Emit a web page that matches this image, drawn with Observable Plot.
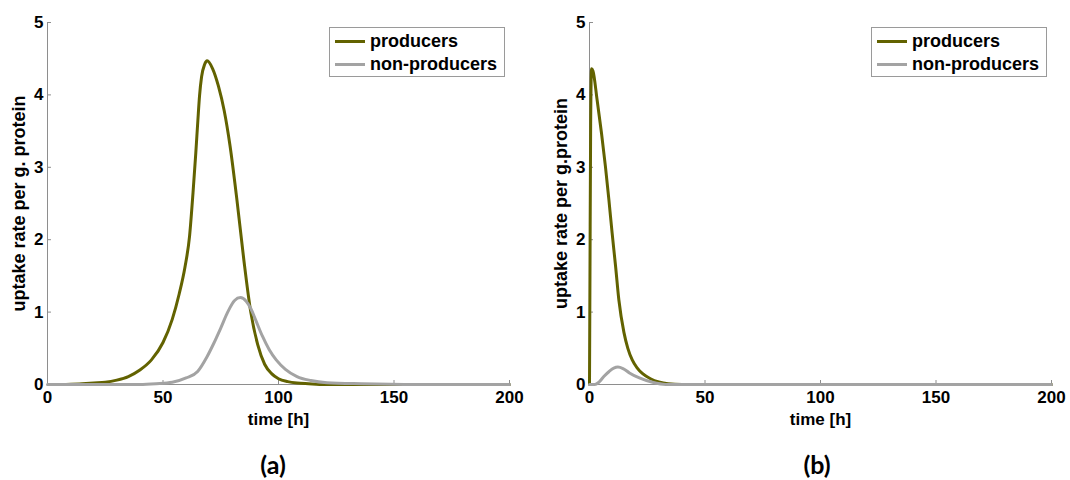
<!DOCTYPE html>
<html><head><meta charset="utf-8">
<script src="https://cdn.jsdelivr.net/npm/d3@7"></script>
<script src="https://cdn.jsdelivr.net/npm/@observablehq/plot@0.6"></script>
<style>
body{margin:0;background:#fff;}
#root{position:relative;width:1070px;height:480px;overflow:hidden;font-family:"Liberation Sans",Arial,sans-serif;background:#fff;}
.panel{position:absolute;top:0;}
.legend{position:absolute;top:27px;width:176px;height:50px;box-sizing:border-box;border:1px solid #9a9a9a;background:#fff;}
.legend .sw{position:absolute;left:5px;width:30px;height:3px;}
.legend .lb{position:absolute;left:40px;font-weight:bold;font-size:18px;line-height:20px;white-space:nowrap;color:#000;}
.caption{position:absolute;font-family:Lato,"Open Sans",sans-serif;font-weight:bold;font-size:25px;transform:translate(-50%,-50%);color:#000;}
</style></head>
<body>
<div id="root"></div>
<script>
// ---- data ----
const seriesNames = ["producers", "non-producers"];
const xTicks = [0, 50, 100, 150, 200];
const yTicks = [0, 1, 2, 3, 4, 5];
const xLabel = "time [h]";
const yLabelA = "uptake rate per g. protein";
const yLabelB = "uptake rate per g.protein";
const captions = ["(a)", "(b)"];

// panel (a)
const timeA_producers = [8, 15, 20, 25, 30, 35, 40, 45, 50, 54, 57, 59.5, 61.5, 63, 64.2, 65.1, 65.8, 66.7, 68, 69.1, 71.5, 74, 76.5, 79, 82, 85, 88, 91, 94, 97, 100, 104, 108, 113, 120, 200];
const rateA_producers = [0, 0.01, 0.02, 0.03, 0.06, 0.11, 0.2, 0.34, 0.58, 0.9, 1.25, 1.62, 2.05, 2.65, 3.2, 3.65, 3.98, 4.25, 4.42, 4.47, 4.36, 4.12, 3.78, 3.3, 2.55, 1.72, 1.0, 0.55, 0.28, 0.15, 0.08, 0.04, 0.02, 0.01, 0, 0];
const timeA_nonproducers = [0, 40, 47, 54, 60, 65, 69, 72, 75, 78, 81, 83.5, 86, 88, 90, 93, 96, 99, 103, 108, 114, 121, 136, 160, 200];
const rateA_nonproducers = [0, 0, 0.01, 0.03, 0.09, 0.18, 0.38, 0.57, 0.78, 1.0, 1.16, 1.2, 1.15, 1.05, 0.9, 0.67, 0.48, 0.34, 0.21, 0.11, 0.055, 0.025, 0.01, 0, 0];

// panel (b)
const timeB_producers = [0, 0.2, 0.5, 0.87, 1.5, 3.3, 5.2, 6.9, 8.4, 9.8, 11.3, 12.7, 14.9, 16.6, 18.5, 20.6, 23, 26.4, 30, 34, 40, 200];
const rateB_producers = [0, 1.5, 3.6, 4.36, 4.33, 3.93, 3.47, 3.01, 2.55, 2.09, 1.63, 1.17, 0.72, 0.5, 0.34, 0.23, 0.15, 0.08, 0.035, 0.01, 0, 0];
const timeB_nonproducers = [0, 2.3, 4, 6.2, 8.5, 10.5, 12.3, 14.5, 17.3, 21.6, 27.3, 33, 200];
const rateB_nonproducers = [0, 0, 0.03, 0.11, 0.18, 0.225, 0.24, 0.22, 0.16, 0.09, 0.03, 0, 0];

// ---- style ----
const prodColor = "#626200";
const nonColor = "#a3a3a3";
const axisColor = "#8e8e8e";
const font = '"Liberation Sans", Arial, sans-serif';

function makePanel(prodT, prodY, nonT, nonY, yLabel, width, ml, mr) {
  const prod = prodT.map((t, i) => ({t, v: prodY[i]}));
  const non = nonT.map((t, i) => ({t, v: nonY[i]}));
  return Plot.plot({
    width, height: 440,
    marginLeft: ml, marginRight: mr, marginTop: 22, marginBottom: 56,
    style: {fontFamily: font, fontSize: "17px", fontWeight: "bold", color: "#000", background: "transparent", overflow: "visible"},
    x: {domain: [0, 200]},
    y: {domain: [0, 5]},
    marks: [
      Plot.ruleY([0], {stroke: axisColor, strokeWidth: 1}),
      Plot.ruleX([0], {stroke: axisColor, strokeWidth: 1}),
      Plot.axisX(xTicks, {tickSize: -4, tickPadding: 10, stroke: axisColor, fill: "#000", fontSize: 17, label: null, tickFormat: d => String(d)}),
      Plot.axisY(yTicks, {tickSize: -4, tickPadding: 8, stroke: axisColor, fill: "#000", fontSize: 17, label: null, tickFormat: d => String(d)}),
      Plot.line(prod, {x: "t", y: "v", stroke: prodColor, strokeWidth: 3, curve: "monotone-x"}),
      Plot.line(non, {x: "t", y: "v", stroke: nonColor, strokeWidth: 3, curve: "monotone-x"}),
      Plot.text([xLabel], {text: d => d, frameAnchor: "bottom", lineAnchor: "middle", dy: 35, fontSize: 17, fill: "#000"}),
      Plot.text([yLabel], {text: d => d, frameAnchor: "left", textAnchor: "middle", lineAnchor: "middle", rotate: -90, dx: -28, fontSize: 18, fill: "#000"})
    ]
  });
}

const root = document.getElementById("root");

function place(el, left) {
  const d = document.createElement("div");
  d.className = "panel";
  d.style.left = left + "px";
  d.appendChild(el);
  root.appendChild(d);
}

place(makePanel(timeA_producers, rateA_producers, timeA_nonproducers, rateA_nonproducers, yLabelA, 535, 47, 26), 0);
place(makePanel(timeB_producers, rateB_producers, timeB_nonproducers, rateB_nonproducers, yLabelB, 530, 49, 19), 540);

function legend(left) {
  const box = document.createElement("div");
  box.className = "legend";
  box.style.left = left + "px";
  [prodColor, nonColor].forEach((c, i) => {
    const sw = document.createElement("div");
    sw.className = "sw";
    sw.style.top = (11.5 + i * 23) + "px";
    sw.style.background = c;
    box.appendChild(sw);
    const lb = document.createElement("div");
    lb.className = "lb";
    lb.style.top = (3 + i * 23) + "px";
    lb.textContent = seriesNames[i];
    box.appendChild(lb);
  });
  root.appendChild(box);
}
legend(329);
legend(871);

[[273, 464], [817, 464]].forEach(([x, y], i) => {
  const c = document.createElement("div");
  c.className = "caption";
  c.style.left = x + "px";
  c.style.top = y + "px";
  c.textContent = captions[i];
  root.appendChild(c);
});
</script>
</body></html>
